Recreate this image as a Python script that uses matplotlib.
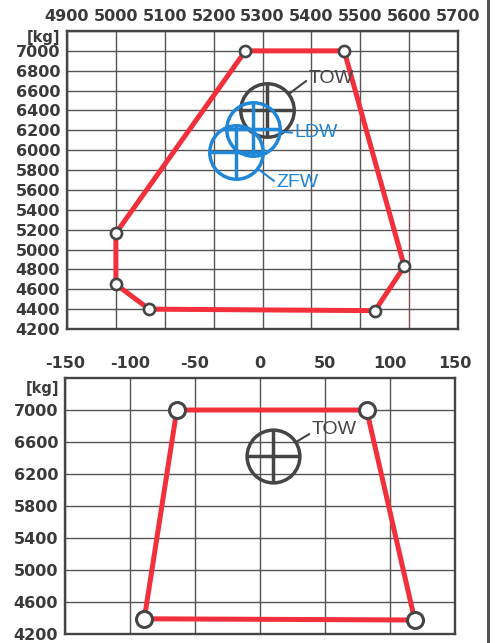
import matplotlib
matplotlib.use("Agg")
import matplotlib.pyplot as plt
from matplotlib.lines import Line2D

plt.rcParams['axes.unicode_minus'] = False
plt.rcParams['font.family'] = ['DejaVu Sans']

# top chart: CG envelope, mass vs moment arm
env1_x = [5265, 5467, 5590, 5530, 5068, 5000, 5000, 5265]
env1_y = [7000, 7000, 4830, 4385, 4400, 4650, 5165, 7000]
top_xticks = [4900, 5000, 5100, 5200, 5300, 5400, 5500, 5600, 5700]
top_yticks = list(range(4200, 7001, 200))

# weight points (top chart)
w_names = ['TOW', 'LDW', 'ZFW']
w_x = [5310, 5280, 5245]
w_y = [6405, 6210, 5980]
w_lbl_x = [5395, 5366, 5329]
w_lbl_y = [6718, 6175, 5670]

# bottom chart: lateral envelope
env2_x = [-64, 82, 119, -89, -64]
env2_y = [7000, 7000, 4375, 4390, 7000]
bot_xticks = [-150, -100, -50, 0, 50, 100, 150]
bot_yticks = [4200, 4600, 5000, 5400, 5800, 6200, 6600, 7000]
tow2_x, tow2_y = 10, 6430
tow2_lbl = (40, 6762)

red = '#f2303c'
dark = '#454545'
blue = '#1f86d8'
txt = '#3a3a3a'
lbl_font = ['Liberation Sans Narrow', 'Liberation Sans', 'DejaVu Sans']

fig = plt.figure(figsize=(4.95, 6.43), dpi=100)
ax1 = fig.add_axes([0.1354, 0.4883, 0.790, 0.4635])
ax2 = fig.add_axes([0.1313, 0.0140, 0.788, 0.3981])


def style(ax):
    for s in ax.spines.values():
        s.set_color(dark)
        s.set_linewidth(1.7)
    ax.grid(True, color='#555555', linewidth=1.0)
    ax.set_axisbelow(True)
    ax.xaxis.tick_top()
    ax.tick_params(length=0, pad=5, labelsize=11.5, labelcolor=txt)
    for lab in ax.get_xticklabels() + ax.get_yticklabels():
        lab.set_fontweight('bold')


# ---- top chart ----
ax1.set_xlim(4900, 5700)
ax1.set_ylim(4200, 7200)
ax1.set_xticks(top_xticks)
ax1.set_yticks(top_yticks + [7200])
ax1.set_yticklabels([str(v) for v in top_yticks] + [''])
style(ax1)
ax1.axvline(5600, ymin=0.0, ymax=0.43, color=red, lw=0.6, ls=(0, (4, 2)), alpha=0.7)
ax1.plot(env1_x, env1_y, color=red, lw=3.6, solid_capstyle='round', zorder=3)
ax1.plot(env1_x[:-1], env1_y[:-1], 'o', ms=8, mfc='white', mec=dark, mew=1.9, zorder=4)
ax1.text(-0.018, 0.978, '[kg]', transform=ax1.transAxes, ha='right', va='center',
         fontsize=10.5, fontweight='bold', color=txt)

w_cols = [dark, blue, blue]
for name, x, y, lx, ly, c in zip(w_names, w_x, w_y, w_lbl_x, w_lbl_y, w_cols):
    ax1.plot(x, y, 'o', ms=38.5, mfc='none', mec=c, mew=2.5, zorder=5)
    ax1.plot(x, y, '+', ms=38.5, mec=c, mew=2.5, zorder=5)
    ax1.annotate(name, xy=(x, y), xytext=(lx, ly), ha='left', va='center',
                 fontsize=14, family=lbl_font, color=c, zorder=6,
                 arrowprops=dict(arrowstyle='-', color=c, lw=1.5,
                                 shrinkA=0, shrinkB=19.5, relpos=(0, 0.5)))

# ---- bottom chart ----
ax2.set_xlim(-150, 150)
ax2.set_ylim(4200, 7400)
ax2.set_xticks(bot_xticks)
ax2.set_yticks(bot_yticks)
style(ax2)
ax2.plot(env2_x, env2_y, color=red, lw=3.6, solid_capstyle='round', zorder=3)
ax2.plot(env2_x[:-1], env2_y[:-1], 'o', ms=11.5, mfc='white', mec=dark, mew=2.2, zorder=4)
ax2.text(-0.015, 0.961, '[kg]', transform=ax2.transAxes, ha='right', va='center',
         fontsize=10.5, fontweight='bold', color=txt)
ax2.plot(tow2_x, tow2_y, 'o', ms=38, mfc='none', mec=dark, mew=2.5, zorder=5)
ax2.plot(tow2_x, tow2_y, '+', ms=38, mec=dark, mew=2.5, zorder=5)
ax2.annotate('TOW', xy=(tow2_x, tow2_y), xytext=tow2_lbl, ha='left', va='center',
             fontsize=14, family=lbl_font, color=dark, zorder=6,
             arrowprops=dict(arrowstyle='-', color=dark, lw=1.5,
                             shrinkA=0, shrinkB=19, relpos=(0, 0.3)))

# scanned page edge on the right
fig.add_artist(Line2D([0.986, 0.986], [0.0, 1.0], transform=fig.transFigure,
                      color='#555555', lw=2.2))

fig.savefig('out.png', dpi=100)
